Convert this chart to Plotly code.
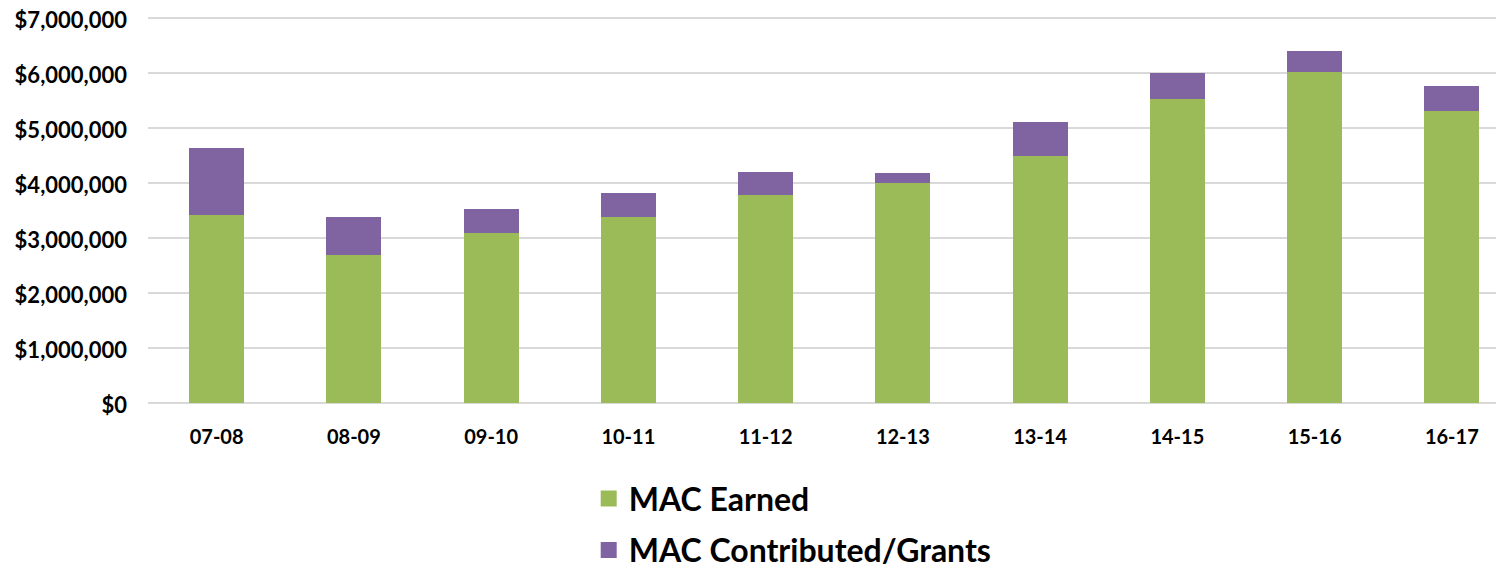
import plotly.graph_objects as go

years = ['07-08', '08-09', '09-10', '10-11', '11-12',
         '12-13', '13-14', '14-15', '15-16', '16-17']
earned = [3418000, 2697000, 3097000, 3388000, 3776000,
          4000000, 4497000, 5527000, 6012000, 5309000]
contributed = [1218000, 685000, 424000, 424000, 424000,
               182000, 618000, 479000, 388000, 455000]
tick_vals = [0, 1000000, 2000000, 3000000, 4000000, 5000000, 6000000, 7000000]
tick_text = ['$0', '$1,000,000', '$2,000,000', '$3,000,000', '$4,000,000',
             '$5,000,000', '$6,000,000', '$7,000,000']

green = '#9BBB59'
purple = '#8064A2'

fig = go.Figure()
fig.add_trace(go.Bar(x=years, y=earned, name='MAC Earned',
                     marker=dict(color=green, line=dict(width=0)),
                     legendgroup='earned', showlegend=False))
fig.add_trace(go.Bar(x=years, y=contributed, name='MAC Contributed/Grants',
                     marker=dict(color=purple, line=dict(width=0)),
                     legendgroup='contrib', showlegend=False))
# legend entries with bigger square swatches
fig.add_trace(go.Scatter(x=[None], y=[None], mode='markers', name='MAC Earned',
                         marker=dict(symbol='square', size=20, color=green),
                         legendgroup='earned'))
fig.add_trace(go.Scatter(x=[None], y=[None], mode='markers',
                         name='MAC Contributed/Grants',
                         marker=dict(symbol='square', size=20, color=purple),
                         legendgroup='contrib'))

# page body has an 8px margin, so margins are offset to compensate
fig.update_layout(
    width=1504, height=571,
    barmode='stack', bargap=0.6,
    plot_bgcolor='white', paper_bgcolor='white',
    margin=dict(l=140, r=8, t=8, b=176, autoexpand=False),
    font=dict(family='Lato, Liberation Sans, sans-serif', color='#000000'),
    legend=dict(orientation='v', x=0.325, xanchor='left', y=-0.176, yanchor='top',
                traceorder='grouped', itemsizing='trace',
                font=dict(size=32, weight='bold'),
                tracegroupgap=7),
    showlegend=True,
)
fig.update_xaxes(type='category', range=[-0.5, 9.38],
                 tickfont=dict(size=20, weight='bold'),
                 ticks='', showline=False, showgrid=False, automargin=False,
                 ticklabelstandoff=20)
fig.update_yaxes(range=[0, 7036364], tickvals=tick_vals, ticktext=tick_text,
                 tickfont=dict(size=22, weight='bold'),
                 showgrid=True, gridcolor='#D9D9D9', gridwidth=1.5,
                 zeroline=True, zerolinecolor='#D9D9D9', zerolinewidth=1.5,
                 ticklabelstandoff=20, ticklabeloverflow='allow',
                 ticklabelshift=2, automargin=False)

fig.write_html("out.html")
